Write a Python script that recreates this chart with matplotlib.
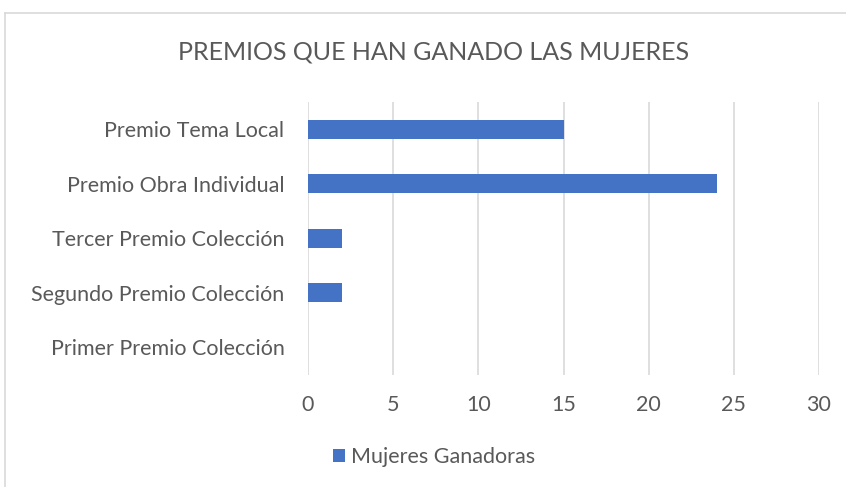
import matplotlib.pyplot as plt
from matplotlib.lines import Line2D

plt.rcParams['font.family'] = ['Lato', 'DejaVu Sans']

categories = ["Primer Premio Colección", "Segundo Premio Colección", "Tercer Premio Colección",
              "Premio Obra Individual", "Premio Tema Local"]
values = [0, 2, 2, 24, 15]
series_name = "Mujeres Ganadoras"
title = "PREMIOS QUE HAN GANADO LAS MUJERES"

text_color = "#595959"
bar_color = "#4472C4"
grid_color = "#D9D9D9"

fig = plt.figure(figsize=(8.46, 4.87), dpi=100)
ax = fig.add_axes([0.3641, 0.231, 0.604, 0.5596])

ax.barh(range(len(categories)), values, height=0.35, color=bar_color, label=series_name, zorder=3)
ax.set_ylim(-0.5, len(categories) - 0.5)
ax.set_xlim(0, 30)
ax.set_xticks(range(0, 31, 5))
ax.set_yticks(range(len(categories)))
ax.set_yticklabels(categories)
ax.grid(axis='x', color=grid_color, linewidth=1.2, zorder=0)
for s in ax.spines.values():
    s.set_visible(False)
ax.tick_params(length=0, labelsize=15.5, colors=text_color)
ax.tick_params(axis='x', pad=15)
ax.tick_params(axis='y', pad=17)

fig.text(434 / 846, 1 - 52 / 487, title, ha='center', va='center', fontsize=18, color=text_color)

ax.legend(loc='center', bbox_to_anchor=(434 / 846, 1 - 457 / 487), bbox_transform=fig.transFigure,
          frameon=False, fontsize=15.5, labelcolor=text_color, handlelength=0.55, handleheight=0.55,
          handletextpad=0.3)

# chart border
fig.add_artist(Line2D([5 / 846, 1], [1 - 13 / 487] * 2, transform=fig.transFigure, color=grid_color, lw=1.2))
fig.add_artist(Line2D([5 / 846] * 2, [0, 1 - 13 / 487], transform=fig.transFigure, color=grid_color, lw=1.2))

fig.savefig("out.png", dpi=100)
